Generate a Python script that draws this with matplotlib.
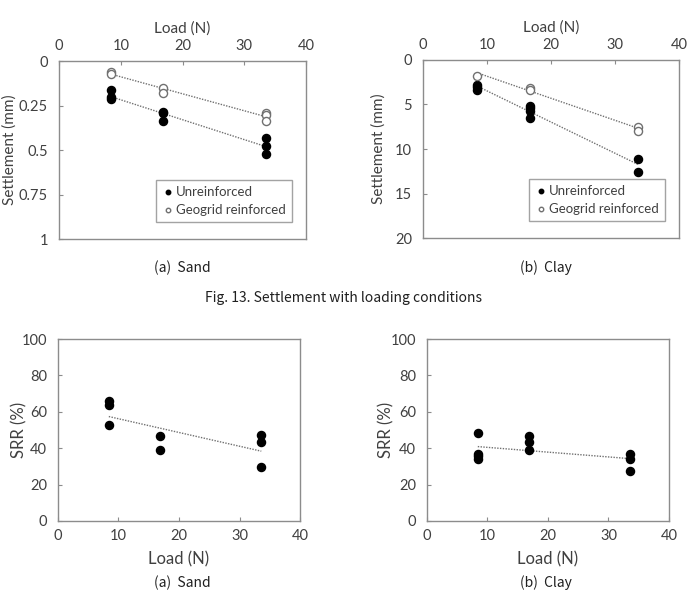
import numpy as np
import matplotlib
matplotlib.use('Agg')
import matplotlib.pyplot as plt

plt.rcParams['font.family'] = ['Lato', 'DejaVu Sans']

# Settlement (mm) versus load (N)
sand_unr_x = [8.4, 8.4, 8.4, 16.8, 16.8, 16.8, 33.6, 33.6, 33.6]
sand_unr_y = [0.163, 0.204, 0.213, 0.284, 0.292, 0.336, 0.434, 0.480, 0.521]
sand_geo_x = [8.4, 8.4, 16.8, 16.8, 33.6, 33.6, 33.6]
sand_geo_y = [0.060, 0.073, 0.150, 0.178, 0.293, 0.305, 0.336]

clay_unr_x = [8.4, 8.4, 8.4, 16.8, 16.8, 16.8, 16.8, 33.6, 33.6]
clay_unr_y = [2.78, 3.0, 3.42, 5.15, 5.38, 5.7, 6.47, 11.1, 12.6]
clay_geo_x = [8.4, 16.8, 16.8, 33.6, 33.6]
clay_geo_y = [1.77, 3.12, 3.38, 7.5, 8.0]

# SRR (%) versus load (N)
sand_srr_x = [8.4, 8.4, 8.4, 16.8, 16.8, 33.6, 33.6, 33.6]
sand_srr_y = [66.2, 64.0, 52.8, 46.8, 39.1, 47.2, 43.5, 29.8]
clay_srr_x = [8.4, 8.4, 8.4, 8.4, 16.8, 16.8, 16.8, 33.6, 33.6, 33.6]
clay_srr_y = [48.2, 36.9, 35.6, 34.1, 46.5, 43.4, 39.2, 36.9, 33.8, 27.7]

spine_col = '#8c8c8c'
text_col = '#404040'


def style(ax, top=False):
    for s in ax.spines.values():
        s.set_color(spine_col)
        s.set_linewidth(1.0)
    ax.tick_params(direction='in', length=3, color=spine_col, labelcolor=text_col,
                   labelsize=10.5)
    ax.tick_params(axis='y', pad=8)
    ax.tick_params(axis='x', pad=6)
    if top:
        ax.xaxis.tick_top()
        ax.xaxis.set_label_position('top')


def trend(ax, x, y):
    k, b = np.polyfit(x, y, 1)
    xs = np.array([min(x), max(x)])
    ax.plot(xs, k * xs + b, ls=(0, (1, 1)), color='#707070', lw=1.0, zorder=1)


fig = plt.figure(figsize=(6.87, 6.03), dpi=100)

ax1 = fig.add_axes([0.0859, 0.6036, 0.3595, 0.2952])
ax2 = fig.add_axes([0.6157, 0.6053, 0.3726, 0.2952])
ax3 = fig.add_axes([0.0844, 0.1360, 0.3523, 0.3018])
ax4 = fig.add_axes([0.6215, 0.1360, 0.3523, 0.3018])

for ax, ux, uy, gx, gy, ymax, yt, lx in [
        (ax1, sand_unr_x, sand_unr_y, sand_geo_x, sand_geo_y, 1, [0, 0.25, 0.5, 0.75, 1], -0.172),
        (ax2, clay_unr_x, clay_unr_y, clay_geo_x, clay_geo_y, 20, [0, 5, 10, 15, 20], -0.145)]:
    style(ax, top=True)
    trend(ax, ux, uy)
    trend(ax, gx, gy)
    ax.scatter(ux, uy, s=34, color='black', zorder=3, label='Unreinforced')
    ax.scatter(gx, gy, s=34, facecolor='white', edgecolor='#707070', lw=1.0,
               zorder=3, label='Geogrid reinforced')
    ax.set_xlim(0, 40)
    ax.set_ylim(ymax, 0)
    ax.set_xticks([0, 10, 20, 30, 40])
    ax.set_yticks(yt)
    ax.set_yticklabels([f'{v:g}' for v in yt])
    ax.set_xlabel('Load (N)', color=text_col, fontsize=11, labelpad=4)
    ax.set_ylabel('Settlement (mm)', color=text_col, fontsize=11)
    ax.yaxis.set_label_coords(lx, 0.5)
    leg = ax.legend(loc='lower right', fontsize=9.5, frameon=True, fancybox=False,
                    handletextpad=0.1, handlelength=1.0, markerscale=0.55,
                    borderpad=0.45, labelspacing=0.45, bbox_to_anchor=(0.97, 0.06))
    leg.get_frame().set_edgecolor(spine_col)
    leg.get_frame().set_linewidth(1.0)
    for t in leg.get_texts():
        t.set_color(text_col)

for ax, x, y, lx in [(ax3, sand_srr_x, sand_srr_y, -0.128),
                     (ax4, clay_srr_x, clay_srr_y, -0.136)]:
    style(ax)
    trend(ax, x, y)
    ax.scatter(x, y, s=34, color='black', zorder=3)
    ax.set_xlim(0, 40)
    ax.set_ylim(0, 100)
    ax.set_xticks([0, 10, 20, 30, 40])
    ax.set_yticks([0, 20, 40, 60, 80, 100])
    ax.set_xlabel('Load (N)', color=text_col, fontsize=12, labelpad=6)
    ax.set_ylabel('SRR (%)', color=text_col, fontsize=12)
    ax.yaxis.set_label_coords(lx, 0.5)

cap = dict(fontsize=10, color='#202020', ha='center', va='center',
           family=['Noto Sans CJK KR', 'DejaVu Sans'])
fig.text(0.2657, 1 - 268 / 603, '(a)  Sand', **cap)
fig.text(0.7951, 1 - 268 / 603, '(b)  Clay', **cap)
fig.text(0.4993, 1 - 298 / 603, 'Fig. 13. Settlement with loading conditions', **cap)
fig.text(0.2657, 1 - 583 / 603, '(a)  Sand', **cap)
fig.text(0.7951, 1 - 583 / 603, '(b)  Clay', **cap)

fig.savefig('out.png', dpi=100)
